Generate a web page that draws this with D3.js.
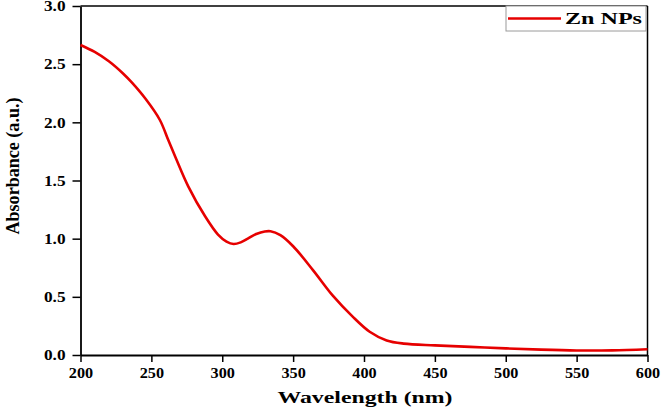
<!DOCTYPE html>
<html>
<head>
<meta charset="utf-8">
<script src="https://cdn.jsdelivr.net/npm/d3@7"></script>
<style>
  html, body { margin: 0; padding: 0; background: #fff; }
  svg { display: block; }
</style>
</head>
<body>
<div id="chart"></div>
<script>
'use strict';

// UV-Vis spectrum values
var wavelength = [200, 210, 220, 230, 236, 246, 256, 262, 267, 276, 288, 297, 303, 308, 313, 318, 324, 330, 334, 341, 350, 364, 378, 392, 404, 416, 428, 450, 475, 500, 525, 550, 575, 600];
var absorbance = [2.665, 2.605, 2.525, 2.42, 2.345, 2.20, 2.02, 1.845, 1.70, 1.45, 1.19, 1.035, 0.975, 0.954, 0.968, 1.0, 1.04, 1.062, 1.064, 1.03, 0.935, 0.73, 0.51, 0.33, 0.20, 0.125, 0.098, 0.083, 0.07, 0.057, 0.046, 0.039, 0.040, 0.05];

var xTicks = [200, 250, 300, 350, 400, 450, 500, 550, 600];
var yTicks = [0.0, 0.5, 1.0, 1.5, 2.0, 2.5, 3.0];
var seriesName = 'Zn NPs';
var xTitle = 'Wavelength (nm)';
var yTitle = 'Absorbance (a.u.)';

var W = 661, H = 408;
var margin = { left: 80.5, right: 13.5, top: 6, bottom: 53 };
var serif = '"Liberation Serif", "Times New Roman", serif';
var red = '#e60000';

var svg = d3.select('#chart').append('svg')
  .attr('width', W)
  .attr('height', H);

var x = d3.scaleLinear().domain([200, 600]).range([margin.left, W - margin.right]);
var y = d3.scaleLinear().domain([0, 3]).range([H - margin.bottom, margin.top]);

// stretch text horizontally like the source image
function stretch(sel, k) {
  sel.each(function () {
    var w = this.getComputedTextLength();
    d3.select(this).attr('textLength', w * k).attr('lengthAdjust', 'spacingAndGlyphs');
  });
}

// frame (top and right)
svg.append('line')
  .attr('x1', x(200)).attr('x2', x(600))
  .attr('y1', y(3)).attr('y2', y(3))
  .attr('stroke', '#000').attr('stroke-width', 1.5);
svg.append('line')
  .attr('x1', x(600)).attr('x2', x(600))
  .attr('y1', y(3)).attr('y2', y(0))
  .attr('stroke', '#000').attr('stroke-width', 1.5);

var xAxis = svg.append('g')
  .attr('transform', 'translate(0,' + y(0) + ')')
  .call(d3.axisBottom(x).tickValues(xTicks).tickSize(7).tickPadding(5).tickSizeOuter(0).tickFormat(d3.format('d')));

var yAxis = svg.append('g')
  .attr('transform', 'translate(' + x(200) + ',0)')
  .call(d3.axisLeft(y).tickValues(yTicks).tickSize(8).tickPadding(7).tickSizeOuter(0).tickFormat(d3.format('.1f')));

[xAxis, yAxis].forEach(function (ax) {
  ax.select('.domain').attr('stroke', '#000').attr('stroke-width', 1.8);
  ax.selectAll('.tick line').attr('stroke', '#000').attr('stroke-width', 1.5);
  ax.selectAll('.tick text')
    .attr('fill', '#000')
    .attr('font-family', serif)
    .attr('font-weight', 'bold')
    .attr('font-size', 15);
});
stretch(xAxis.selectAll('.tick text'), 1.08);
stretch(yAxis.selectAll('.tick text'), 1.15);

// spectrum line
var line = d3.line()
  .x(function (d, i) { return x(wavelength[i]); })
  .y(function (d) { return y(d); })
  .curve(d3.curveCatmullRom.alpha(0.5));

svg.append('path')
  .datum(absorbance)
  .attr('fill', 'none')
  .attr('stroke', red)
  .attr('stroke-width', 2.6)
  .attr('d', line);

// axis titles
svg.append('text')
  .attr('x', (x(200) + x(600)) / 2 + 1)
  .attr('y', 403)
  .attr('text-anchor', 'middle')
  .attr('font-family', serif)
  .attr('font-weight', 'bold')
  .attr('font-size', 17)
  .attr('textLength', 175)
  .attr('lengthAdjust', 'spacingAndGlyphs')
  .text(xTitle);

svg.append('text')
  .attr('transform', 'translate(19,' + 166 + ') rotate(-90)')
  .attr('text-anchor', 'middle')
  .attr('font-family', serif)
  .attr('font-weight', 'bold')
  .attr('font-size', 18)
  .attr('textLength', 137)
  .attr('lengthAdjust', 'spacingAndGlyphs')
  .text(yTitle);

// legend
var legend = svg.append('g');
legend.append('rect')
  .attr('x', 506).attr('y', y(3))
  .attr('width', 140).attr('height', 25)
  .attr('fill', '#fff')
  .attr('stroke', '#9a9a9a')
  .attr('stroke-width', 1);
legend.append('line')
  .attr('x1', 508).attr('x2', 561)
  .attr('y1', 18.5).attr('y2', 18.5)
  .attr('stroke', red)
  .attr('stroke-width', 2.6);
legend.append('text')
  .attr('x', 565)
  .attr('y', 24)
  .attr('font-family', serif)
  .attr('font-weight', 'bold')
  .attr('font-size', 16)
  .attr('textLength', 77)
  .attr('lengthAdjust', 'spacingAndGlyphs')
  .text(seriesName);
</script>
</body>
</html>
